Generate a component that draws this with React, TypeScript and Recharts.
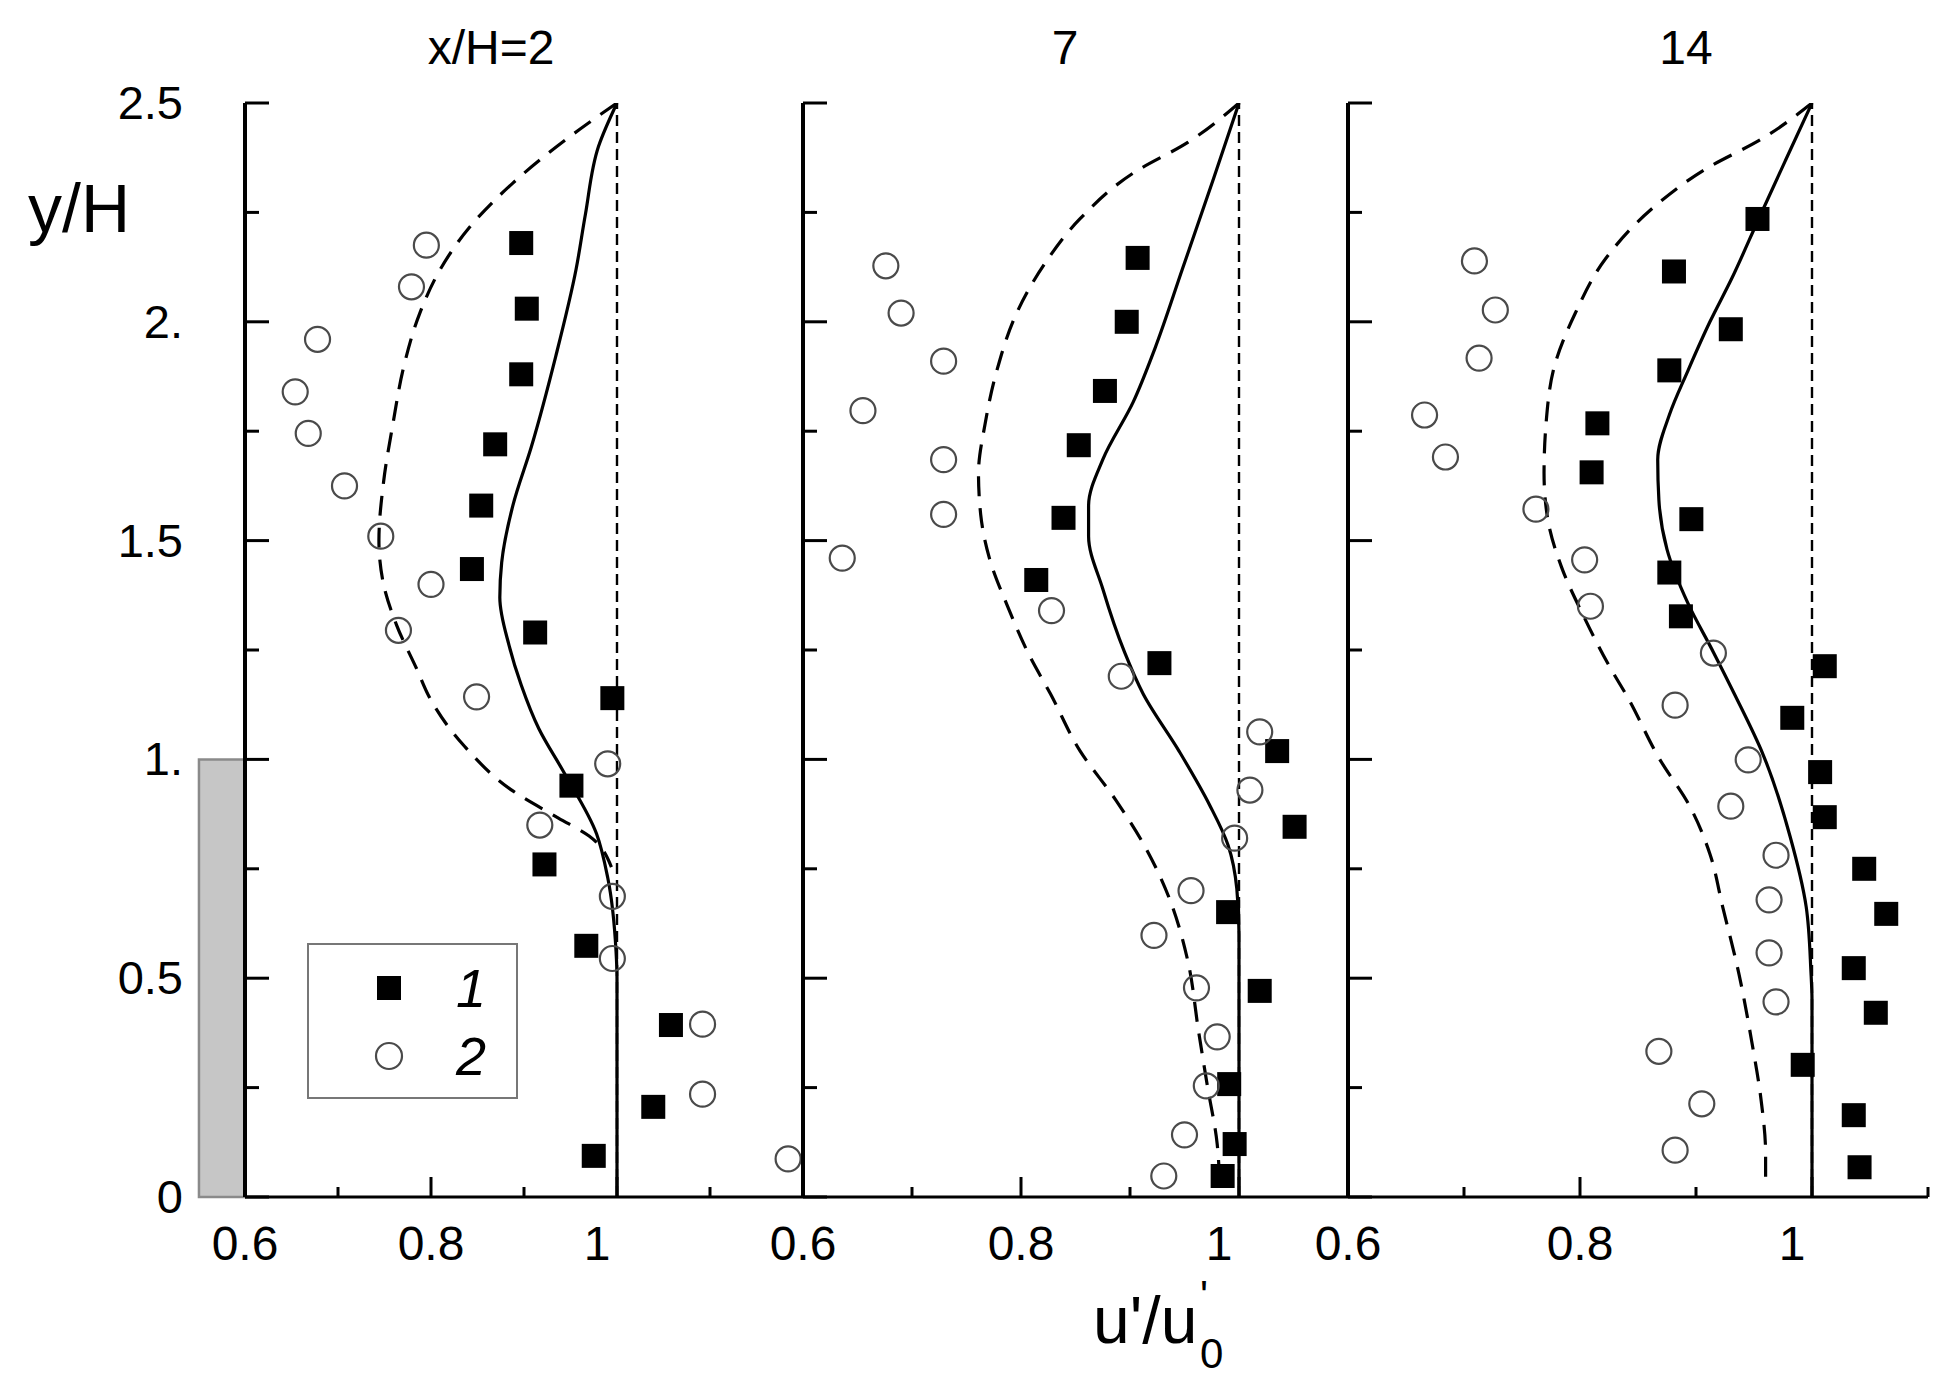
import React from 'react';
import { ScatterChart, Scatter, XAxis, YAxis, ReferenceArea, ReferenceLine, Legend } from 'recharts';

const FONT = '"Liberation Sans", Arial, Helvetica, sans-serif';

// ---------- tick / label text ----------
const panelTitles = ['x/H=2', '7', '14'];
const yTicks = [0, 0.25, 0.5, 0.75, 1, 1.25, 1.5, 1.75, 2, 2.25, 2.5];
const yMajorTicks = [0, 0.5, 1, 1.5, 2, 2.5];
const yMajorLabels = ['0', '0.5', '1.', '1.5', '2.', '2.5'];
const xTicksWide = [0.6, 0.7, 0.8, 0.9, 1.0, 1.1, 1.2];
const xTicksNarrow = [0.6, 0.7, 0.8, 0.9, 1.0, 1.1];
const xMajorTicks = [0.6, 0.8, 1.0, 1.2];
const xMajorLabels = ['0.6', '0.8', '1', ''];

// ---------- panel x/H = 2 ----------
const p1Squares = [
  [0.897, 2.18], [0.903, 2.03], [0.897, 1.88], [0.869, 1.72], [0.854, 1.58], [0.844, 1.435],
  [0.912, 1.29], [0.995, 1.14], [0.951, 0.94], [0.922, 0.76], [0.967, 0.574], [1.058, 0.393],
  [1.039, 0.206], [0.975, 0.094],
];
const p1Circles = [
  [0.795, 2.175], [0.779, 2.08], [0.678, 1.96], [0.654, 1.84], [0.668, 1.745], [0.707, 1.625],
  [0.746, 1.51], [0.8, 1.4], [0.765, 1.295], [0.849, 1.143], [0.99, 0.99], [0.917, 0.85],
  [0.995, 0.687], [0.995, 0.545], [1.092, 0.395], [1.092, 0.235], [1.184, 0.087],
];
const p1Solid = [
  [1.0, 2.5], [0.98, 2.4], [0.966, 2.245], [0.956, 2.12], [0.934, 1.92], [0.908, 1.715],
  [0.888, 1.58], [0.876, 1.45], [0.874, 1.37], [0.884, 1.26], [0.897, 1.17], [0.916, 1.07],
  [0.943, 0.97], [0.978, 0.83], [0.99, 0.73], [0.999, 0.56], [1.0, 0.5], [1.0, 0],
];
const p1Dashed = [
  [1.0, 2.5], [0.96, 2.44], [0.888, 2.317], [0.841, 2.215], [0.81, 2.12], [0.788, 2.02],
  [0.771, 1.9], [0.759, 1.766], [0.749, 1.634], [0.744, 1.5], [0.749, 1.4], [0.763, 1.307],
  [0.785, 1.205], [0.798, 1.143], [0.836, 1.03], [0.888, 0.928], [0.937, 0.866], [0.97, 0.825],
  [0.994, 0.754],
];

// ---------- panel 7 ----------
const p2Squares = [
  [0.907, 2.146], [0.897, 2.0], [0.877, 1.842], [0.853, 1.718], [0.839, 1.552], [0.814, 1.41],
  [0.927, 1.22], [1.035, 1.019], [1.051, 0.846], [0.99, 0.651], [1.019, 0.471], [0.991, 0.258],
  [0.996, 0.121], [0.985, 0.048],
];
const p2Circles = [
  [0.676, 2.128], [0.69, 2.02], [0.729, 1.91], [0.655, 1.797], [0.729, 1.685], [0.729, 1.56],
  [0.636, 1.46], [0.828, 1.34], [0.892, 1.19], [1.019, 1.063], [1.01, 0.93], [0.996, 0.82],
  [0.956, 0.7], [0.922, 0.598], [0.961, 0.478], [0.98, 0.366], [0.97, 0.254], [0.95, 0.142],
  [0.931, 0.048],
];
const p2Solid = [
  [1.0, 2.5], [0.977, 2.33], [0.948, 2.12], [0.923, 1.94], [0.903, 1.817], [0.875, 1.685],
  [0.862, 1.58], [0.862, 1.51], [0.875, 1.39], [0.895, 1.245], [0.912, 1.15], [0.945, 1.019],
  [0.973, 0.896], [0.99, 0.804], [0.998, 0.704], [1.0, 0.6], [1.0, 0],
];
const p2Dashed = [
  [1.0, 2.5], [0.953, 2.41], [0.903, 2.34], [0.854, 2.235], [0.821, 2.13], [0.796, 2.02],
  [0.778, 1.89], [0.767, 1.766], [0.761, 1.654], [0.763, 1.56], [0.771, 1.46], [0.788, 1.348],
  [0.808, 1.236], [0.827, 1.15], [0.854, 1.02], [0.887, 0.907], [0.915, 0.795], [0.936, 0.683],
  [0.953, 0.54], [0.963, 0.377], [0.971, 0.254], [0.98, 0.121], [0.982, 0.05],
];

// ---------- panel 14 ----------
const p3Squares = [
  [0.953, 2.235], [0.881, 2.115], [0.93, 1.983], [0.877, 1.889], [0.815, 1.768], [0.81, 1.656],
  [0.896, 1.549], [0.877, 1.427], [0.887, 1.327], [1.011, 1.213], [0.983, 1.095], [1.007, 0.971],
  [1.011, 0.868], [1.045, 0.75], [1.064, 0.647], [1.036, 0.523], [1.055, 0.421], [0.992, 0.302],
  [1.036, 0.187], [1.041, 0.068],
];
const p3Circles = [
  [0.709, 2.139], [0.727, 2.027], [0.713, 1.917], [0.666, 1.787], [0.684, 1.691], [0.762, 1.572],
  [0.804, 1.456], [0.809, 1.35], [0.915, 1.243], [0.882, 1.124], [0.945, 0.999], [0.93, 0.893],
  [0.969, 0.781], [0.963, 0.679], [0.963, 0.558], [0.969, 0.446], [0.868, 0.333], [0.905, 0.213],
  [0.882, 0.107],
];
const p3Solid = [
  [1.0, 2.5], [0.977, 2.368], [0.954, 2.235], [0.931, 2.1], [0.912, 2.0], [0.893, 1.888],
  [0.877, 1.787], [0.867, 1.685], [0.868, 1.593], [0.875, 1.48], [0.893, 1.357], [0.915, 1.245],
  [0.933, 1.15], [0.958, 1.01], [0.981, 0.825], [0.995, 0.663], [0.999, 0.519], [1.0, 0.45], [1.0, 0],
];
const p3Dashed = [
  [1.0, 2.5], [0.958, 2.42], [0.907, 2.347], [0.861, 2.256], [0.822, 2.144], [0.796, 2.02],
  [0.778, 1.899], [0.771, 1.776], [0.769, 1.654], [0.772, 1.552], [0.784, 1.44], [0.803, 1.328],
  [0.827, 1.205], [0.84, 1.147], [0.869, 0.999], [0.894, 0.896], [0.912, 0.784], [0.923, 0.663],
  [0.937, 0.51], [0.948, 0.356], [0.956, 0.224], [0.96, 0.1], [0.96, 0.04],
];

// obstacle (step) extent, in data units
const stepX = [0.5505, 0.6];
const stepY = [0, 1.0];

const toPts = (arr: number[][]) => arr.map(([x, y]) => ({ x, y }));

const idxOf = (list: number[], v: number) => list.findIndex((t) => Math.abs(t - v) < 1e-6);

const YTick = (props: any) => {
  const { x, y, payload, showLabel } = props;
  const i = idxOf(yMajorTicks, payload.value);
  const major = i >= 0;
  return (
    <g>
      <line x1={x} y1={y} x2={x + (major ? 24 : 14)} y2={y} stroke="#000" strokeWidth={3} />
      {showLabel && major && (
        <text x={x - 62} y={y} dy="0.34em" textAnchor="end" fontSize={47} fontFamily={FONT} fill="#000">
          {yMajorLabels[i]}
        </text>
      )}
    </g>
  );
};

const XTick = (props: any) => {
  const { x, y, payload } = props;
  const i = idxOf(xMajorTicks, payload.value);
  const major = i >= 0;
  const label = major ? xMajorLabels[i] : '';
  const shift = label === '1' ? -20 : 0;
  return (
    <g>
      <line x1={x} y1={y} x2={x} y2={y - (major ? 20 : 10)} stroke="#000" strokeWidth={3} />
      {label && (
        <text x={x + shift} y={y + 63} textAnchor="middle" fontSize={48} fontFamily={FONT} fill="#000">
          {label}
        </text>
      )}
    </g>
  );
};

const squareShape = (p: any) => <rect x={p.cx - 12} y={p.cy - 12} width={24} height={24} fill="#000" />;
const circleShape = (p: any) => (
  <circle cx={p.cx} cy={p.cy} r={12.5} fill="none" stroke="#4a4a4a" strokeWidth={2.2} />
);
const noShape = () => <g />;

const LegendBox = (props: any) => {
  const items = (props.payload || []).filter((e: any) => e.type !== 'none');
  return (
    <div
      style={{
        width: 211,
        height: 156,
        border: '2.5px solid #777',
        boxSizing: 'border-box',
        background: '#fff',
      }}
    >
      <svg width={206} height={151} style={{ display: 'block' }}>
        {items.map((e: any, i: number) => {
          const cy = 43 + i * 68;
          return (
            <g key={i}>
              {e.type === 'square' ? (
                <rect x={68} y={cy - 12} width={24} height={24} fill="#000" />
              ) : (
                <circle cx={80} cy={cy} r={13} fill="none" stroke="#4a4a4a" strokeWidth={2.2} />
              )}
              <text
                x={162}
                y={cy + 19}
                textAnchor="middle"
                fontSize={54}
                fontStyle="italic"
                fontFamily={FONT}
                fill="#000"
              >
                {e.value}
              </text>
            </g>
          );
        })}
      </svg>
    </div>
  );
};

const panels = [
  {
    left: 0, width: 810, margin: { top: 103, right: 7, bottom: 127, left: 185 },
    xDomain: [0.6, 1.2], xTicks: xTicksWide,
    squares: p1Squares, circles: p1Circles, solid: p1Solid, dashed: p1Dashed,
    first: true,
  },
  {
    left: 740, width: 620, margin: { top: 103, right: 12, bottom: 127, left: 3 },
    xDomain: [0.6, 1.1], xTicks: xTicksNarrow,
    squares: p2Squares, circles: p2Circles, solid: p2Solid, dashed: p2Dashed,
    first: false,
  },
  {
    left: 1285, width: 674, margin: { top: 103, right: 31, bottom: 127, left: 3 },
    xDomain: [0.6, 1.1], xTicks: xTicksNarrow,
    squares: p3Squares, circles: p3Circles, solid: p3Solid, dashed: p3Dashed,
    first: false,
  },
];

function Panel({ cfg }: { cfg: any }) {
  return (
    <div style={{ position: 'absolute', left: cfg.left, top: 0 }}>
      <ScatterChart width={cfg.width} height={1384} margin={cfg.margin}>
        <XAxis
          type="number"
          dataKey="x"
          domain={cfg.xDomain}
          ticks={cfg.xTicks}
          interval={0}
          tickSize={0}
          tickMargin={0}
          height={60}
          allowDataOverflow
          axisLine={{ stroke: '#000', strokeWidth: 3 }}
          tickLine={false}
          tick={(p: any) => <XTick {...p} />}
        />
        <YAxis
          type="number"
          dataKey="y"
          domain={[0, 2.5]}
          ticks={yTicks}
          interval={0}
          tickSize={0}
          tickMargin={0}
          width={60}
          allowDataOverflow
          axisLine={{ stroke: '#000', strokeWidth: 4 }}
          tickLine={false}
          tick={(p: any) => <YTick {...p} showLabel={cfg.first} />}
        />
        {cfg.first && (
          <ReferenceArea
            x1={stepX[0]}
            x2={stepX[1]}
            y1={stepY[0]}
            y2={stepY[1]}
            ifOverflow="visible"
            fill="#c6c6c6"
            fillOpacity={1}
            stroke="#8a8a8a"
            strokeWidth={2.5}
          />
        )}
        <ReferenceLine x={1} stroke="#000" strokeWidth={2.4} strokeDasharray="11 6" />
        <Scatter
          data={toPts(cfg.dashed)}
          line={{ stroke: '#000', strokeWidth: 3.2, strokeDasharray: '20 12' }}
          lineType="joint"
          lineJointType="monotoneY"
          shape={noShape}
          legendType="none"
          isAnimationActive={false}
        />
        <Scatter
          data={toPts(cfg.solid)}
          line={{ stroke: '#000', strokeWidth: 3.2 }}
          lineType="joint"
          lineJointType="monotoneY"
          shape={noShape}
          legendType="none"
          isAnimationActive={false}
        />
        <Scatter name="1" data={toPts(cfg.squares)} shape={squareShape} legendType="square" isAnimationActive={false} />
        <Scatter name="2" data={toPts(cfg.circles)} shape={circleShape} legendType="circle" isAnimationActive={false} />
        {cfg.first && (
          <Legend
            layout="vertical"
            align="center"
            verticalAlign="middle"
            wrapperStyle={{ left: 307, top: 943, width: 211, height: 156 }}
            content={(p: any) => <LegendBox {...p} />}
          />
        )}
      </ScatterChart>
    </div>
  );
}

const titleX = [491, 1065, 1686];

export default function App() {
  return (
    <div style={{ position: 'absolute', left: 0, top: 0, width: 1959, height: 1384, background: '#fff' }}>
      {panels.map((cfg, i) => (
        <Panel key={i} cfg={cfg} />
      ))}
      <svg
        width={1959}
        height={1384}
        style={{ position: 'absolute', left: 0, top: 0, pointerEvents: 'none' }}
      >
        {panelTitles.map((t, i) => (
          <text key={i} x={titleX[i]} y={64} textAnchor="middle" fontSize={48} fontFamily={FONT} fill="#000">
            {t}
          </text>
        ))}
        <text x={28} y={232} fontSize={68} fontFamily={FONT} fill="#000">
          y/H
        </text>
        <text x={1093} y={1343} fontSize={66} fontFamily={FONT} fill="#000">
          u'/u
        </text>
        <text x={1200} y={1368} fontSize={42} fontFamily={FONT} fill="#000">
          0
        </text>
        <text x={1200} y={1310} fontSize={42} fontFamily={FONT} fill="#000">
          '
        </text>
      </svg>
    </div>
  );
}
